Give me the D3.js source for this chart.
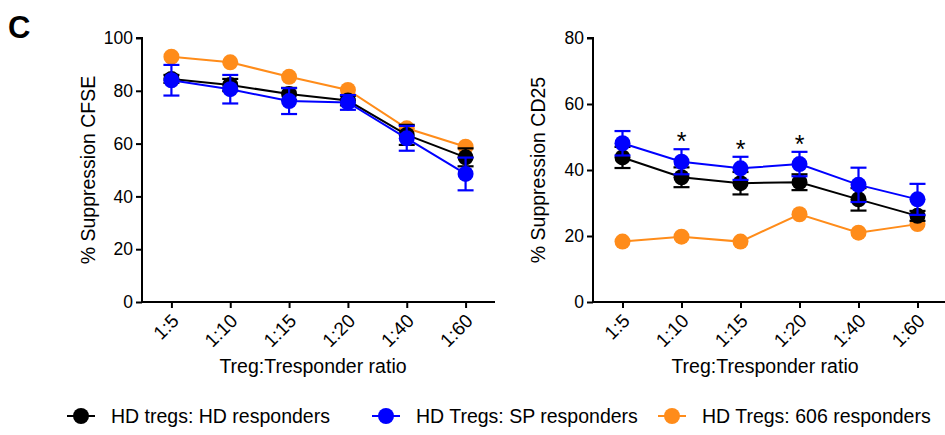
<!DOCTYPE html>
<html><head><meta charset="utf-8">
<script src="https://cdn.jsdelivr.net/npm/d3@7"></script>
<style>body{margin:0;background:#fff}svg{display:block;font-family:"Liberation Sans",Arial,sans-serif}</style>
</head><body>
<svg id="c" width="945" height="435"></svg>
<script>
const categories = ["1:5","1:10","1:15","1:20","1:40","1:60"];
const seriesNames = ["HD tregs: HD responders","HD Tregs: SP responders","HD Tregs: 606 responders"];
const seriesColors = ["#000000","#0000FF","#FF8C1A"];

// Panel 1: % Suppression CFSE
const cfseHD   = [84.5, 82.2, 78.8, 76.3, 63.3, 54.8];
const cfseHDerr= [1.5, 2.3, 2.3, 1.8, 3.8, 3.4];
const cfseSP   = [84.0, 80.6, 76.1, 75.6, 62.0, 48.5];
const cfseSPerr= [5.8, 5.4, 4.9, 2.8, 4.7, 6.2];
const cfse606  = [92.9, 90.8, 85.3, 80.3, 65.8, 58.8];
const cfseTicks = [0,20,40,60,80,100];

// Panel 2: % Suppression CD25
const cd25HD   = [43.8, 37.8, 36.0, 36.3, 31.1, 26.1];
const cd25HDerr= [3.2, 3.0, 3.4, 2.4, 3.4, 1.5];
const cd25SP   = [48.1, 42.5, 40.5, 41.8, 35.5, 31.1];
const cd25SPerr= [3.7, 3.8, 3.5, 3.7, 5.2, 4.7];
const cd25606  = [18.3, 19.8, 18.3, 26.6, 21.0, 23.6];
const cd25Ticks = [0,20,40,60,80];
const cd25Sig  = ["", "*", "*", "*", "", ""];

const svg = d3.select("#c");

svg.append("text").attr("x", 8).attr("y", 38).attr("font-size", 31).attr("font-weight", "bold").text("C");

function panel(opt){
  const g = svg.append("g");
  const x = d3.scalePoint().domain(categories).range([opt.x0, opt.x1]).padding(0.5);
  const y = d3.scaleLinear().domain([0, opt.ymax]).range([302, 38]);

  const series = [
    {v: opt.s606, e: null, c: seriesColors[2]},
    {v: opt.hd, e: opt.hdErr, c: seriesColors[0]},
    {v: opt.sp, e: opt.spErr, c: seriesColors[1]}
  ];
  const line = d3.line().x((d,i)=>x(categories[i])).y(d=>y(d));
  series.forEach(s=>{
    const sg = g.append("g");
    sg.append("path").datum(s.v).attr("d", line).attr("fill","none").attr("stroke", s.c).attr("stroke-width", 2);
    if (s.e){
      s.v.forEach((v,i)=>{
        const cx = x(categories[i]);
        const t = y(v + s.e[i]), b = y(v - s.e[i]);
        sg.append("line").attr("x1",cx).attr("x2",cx).attr("y1",t).attr("y2",b).attr("stroke",s.c).attr("stroke-width",2.2);
        [t,b].forEach(yy=>sg.append("line").attr("x1",cx-8).attr("x2",cx+8).attr("y1",yy).attr("y2",yy).attr("stroke",s.c).attr("stroke-width",2.2));
      });
    }
    sg.selectAll("circle").data(s.v).join("circle")
      .attr("cx",(d,i)=>x(categories[i])).attr("cy",d=>y(d)).attr("r",8).attr("fill",s.c);
  });

  if (opt.sig){
    opt.sig.forEach((s,i)=>{
      if(!s) return;
      g.append("text").attr("x", x(categories[i])).attr("y", y(opt.sp[i]+opt.spErr[i]) + 1)
        .attr("text-anchor","middle").attr("font-size",25).text(s);
    });
  }

  // axes
  const ya = g.append("g").attr("transform",`translate(${opt.x0},0)`)
    .call(d3.axisLeft(y).tickValues(opt.ticks).tickSize(6).tickPadding(3));
  ya.select(".domain").attr("stroke-width",2).attr("d", `M-6,${y(opt.ymax)}H0V${y(0)}`);
  ya.selectAll(".tick line").attr("stroke-width",2);
  ya.selectAll(".tick text").attr("font-size",17.5).attr("fill","#000").attr("font-family","Liberation Sans, Arial, sans-serif");

  const xa = g.append("g").attr("transform",`translate(0,302)`)
    .call(d3.axisBottom(x).tickSize(6).tickPadding(3));
  xa.select(".domain").attr("stroke-width",2).attr("d", `M${opt.x0},0H${opt.x1}`);
  xa.selectAll(".tick line").attr("stroke-width",2);
  xa.selectAll(".tick text").attr("font-size",19).attr("fill","#000")
    .attr("font-family","Liberation Sans, Arial, sans-serif")
    .attr("text-anchor","end").attr("dy",null).attr("y",null)
    .attr("transform","translate(8,20) rotate(-45)");

  g.append("text").attr("transform",`translate(${opt.ytx},170) rotate(-90)`).attr("text-anchor","middle")
    .attr("font-size",19.5).text(opt.ytitle);
  g.append("text").attr("x",opt.xtx).attr("y",373).attr("text-anchor","middle")
    .attr("font-size",19.5).text("Treg:Tresponder ratio");
}

panel({x0:142, x1:495, ymax:100, ticks:cfseTicks, hd:cfseHD, hdErr:cfseHDerr, sp:cfseSP, spErr:cfseSPerr, s606:cfse606,
  ytitle:"% Suppression CFSE", ytx:95, xtx:313});
panel({x0:593, x1:947, ymax:80, ticks:cd25Ticks, hd:cd25HD, hdErr:cd25HDerr, sp:cd25SP, spErr:cd25SPerr, s606:cd25606, sig:cd25Sig,
  ytitle:"% Suppression CD25", ytx:545, xtx:765});

// legend
const legX = [81, 386, 672];
const legTX = [111, 416, 702];
seriesNames.forEach((n,i)=>{
  const lg = svg.append("g");
  lg.append("line").attr("x1",legX[i]-14).attr("x2",legX[i]+14).attr("y1",416).attr("y2",416).attr("stroke",seriesColors[i]).attr("stroke-width",2);
  lg.append("circle").attr("cx",legX[i]).attr("cy",416).attr("r",8).attr("fill",seriesColors[i]);
  lg.append("text").attr("x",legTX[i]).attr("y",423).attr("font-size",19.5).text(n);
});
</script>
</body></html>
